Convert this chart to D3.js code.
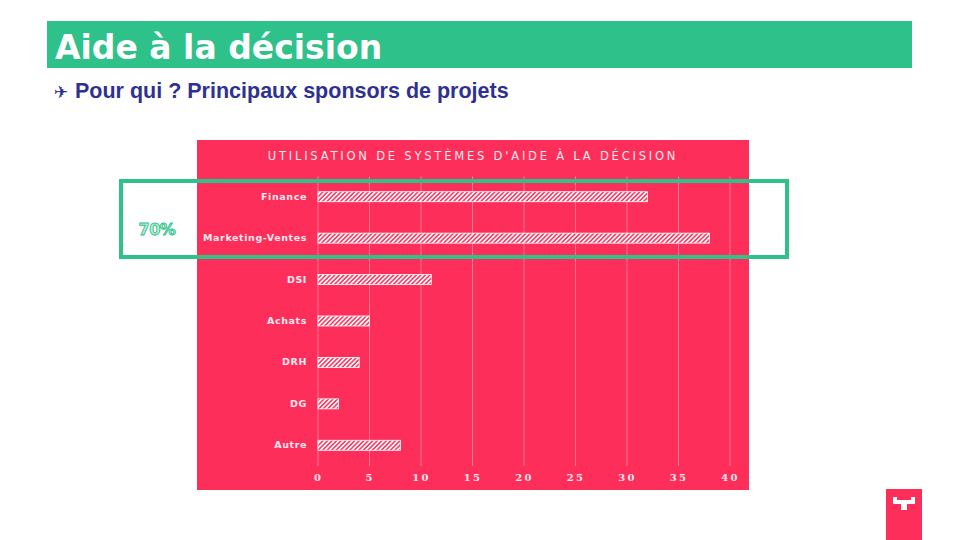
<!DOCTYPE html>
<html>
<head>
<meta charset="utf-8">
<script src="https://cdn.jsdelivr.net/npm/d3@7"></script>
<style>
  body { margin: 0; background: #fff; }
  svg { display: block; }
</style>
</head>
<body>
<div id="chart"></div>
<script>
// données du graphique
var categories = ["Finance", "Marketing-Ventes", "DSI", "Achats", "DRH", "DG", "Autre"];
var values = [32, 38, 11, 5, 4, 2, 8];
var tickValues = [0, 5, 10, 15, 20, 25, 30, 35, 40];
var highlightLabel = "70%";

var W = 960, H = 540;
var pink = "#fd2f5a", green = "#2ec28a";

var svg = d3.select("#chart").append("svg")
  .attr("width", W).attr("height", H);

// motif hachuré pour les barres
var defs = svg.append("defs");
var pat = defs.append("pattern")
  .attr("id", "hatch")
  .attr("patternUnits", "userSpaceOnUse")
  .attr("width", 3.2).attr("height", 3.2)
  .attr("patternTransform", "rotate(45)");
pat.append("rect").attr("width", 3.2).attr("height", 3.2).attr("fill", pink);
pat.append("rect").attr("width", 1.7).attr("height", 3.2).attr("fill", "#fff");

// bandeau de titre
svg.append("rect")
  .attr("x", 47).attr("y", 21).attr("width", 865).attr("height", 47)
  .attr("fill", green);
svg.append("text")
  .attr("x", 55).attr("y", 59)
  .attr("fill", "#fff")
  .style("font-family", "DejaVu Sans")
  .style("font-weight", "bold")
  .style("font-size", "33px")
  .text("Aide à la décision");

svg.append("text")
  .attr("x", 54).attr("y", 98)
  .attr("fill", "#2e3192")
  .style("font-family", "DejaVu Sans")
  .style("font-size", "17px")
  .text("✈");
svg.append("text")
  .attr("x", 75).attr("y", 98)
  .attr("fill", "#2e3192")
  .style("font-family", "Liberation Sans, Arial")
  .style("font-weight", "bold")
  .style("font-size", "21.5px")
  .text("Pour qui ? Principaux sponsors de projets");

// panneau du graphique
svg.append("rect")
  .attr("x", 197).attr("y", 140).attr("width", 552).attr("height", 350)
  .attr("fill", pink);

svg.append("text")
  .attr("x", 473).attr("y", 160)
  .attr("text-anchor", "middle")
  .attr("fill", "#fde8ee")
  .style("font-family", "DejaVu Sans")
  .style("font-size", "11.5px")
  .style("letter-spacing", "2.8px")
  .text("UTILISATION DE SYSTÈMES D'AIDE À LA DÉCISION");

var x = d3.scaleLinear().domain([0, 40]).range([318, 730]);
var y = d3.scaleBand().domain(categories).range([176, 466]);

var g = svg.append("g");

// grille verticale
g.selectAll("line.grid")
  .data(tickValues)
  .enter().append("line")
  .attr("class", "grid")
  .attr("x1", function(d) { return x(d); })
  .attr("x2", function(d) { return x(d); })
  .attr("y1", 176).attr("y2", 466)
  .attr("stroke", "rgba(255,255,255,0.35)")
  .attr("stroke-width", 1);

// axe X
var xAxis = g.append("g")
  .attr("transform", "translate(0,466)")
  .call(d3.axisBottom(x).tickValues(tickValues).tickSize(0).tickPadding(8));
xAxis.select(".domain").remove();
xAxis.selectAll("text")
  .attr("fill", "#fde8ee")
  .style("font-family", "DejaVu Serif")
  .style("font-weight", "bold")
  .style("font-size", "10px")
  .style("letter-spacing", "2.2px");

// axe Y
var yAxis = g.append("g")
  .attr("transform", "translate(310,0)")
  .call(d3.axisLeft(y).tickSize(0).tickPadding(3));
yAxis.select(".domain").remove();
yAxis.selectAll("text")
  .attr("fill", "#fde8ee")
  .style("font-family", "DejaVu Sans")
  .style("font-weight", "bold")
  .style("font-size", "9.5px")
  .style("letter-spacing", "0.6px");

// barres
var bh = 10;
g.selectAll("rect.bar")
  .data(values)
  .enter().append("rect")
  .attr("class", "bar")
  .attr("x", x(0))
  .attr("y", function(d, i) { return y(categories[i]) + y.bandwidth() / 2 - bh / 2; })
  .attr("width", function(d) { return x(d) - x(0); })
  .attr("height", bh)
  .attr("fill", "url(#hatch)")
  .attr("stroke", "#fff")
  .attr("stroke-width", 0.8);

// encadré de mise en avant
svg.append("rect")
  .attr("x", 121).attr("y", 181).attr("width", 666).attr("height", 76)
  .attr("fill", "none")
  .attr("stroke", green)
  .attr("stroke-width", 4);

svg.append("text")
  .attr("x", 157).attr("y", 235)
  .attr("text-anchor", "middle")
  .attr("fill", "#bfeedb")
  .attr("stroke", green)
  .attr("stroke-width", 0.9)
  .style("font-family", "DejaVu Sans")
  .style("font-weight", "bold")
  .style("font-size", "16px")
  .style("letter-spacing", "-0.5px")
  .text(highlightLabel);

// logo en bas à droite
svg.append("rect")
  .attr("x", 886).attr("y", 489).attr("width", 36).attr("height", 51)
  .attr("fill", pink);
svg.append("path")
  .attr("d", "M893,497 h4 v3 h14 v-3 h4 v7 h-8 v6 h-6 v-6 h-8 z")
  .attr("fill", "#fff");
</script>
</body>
</html>
